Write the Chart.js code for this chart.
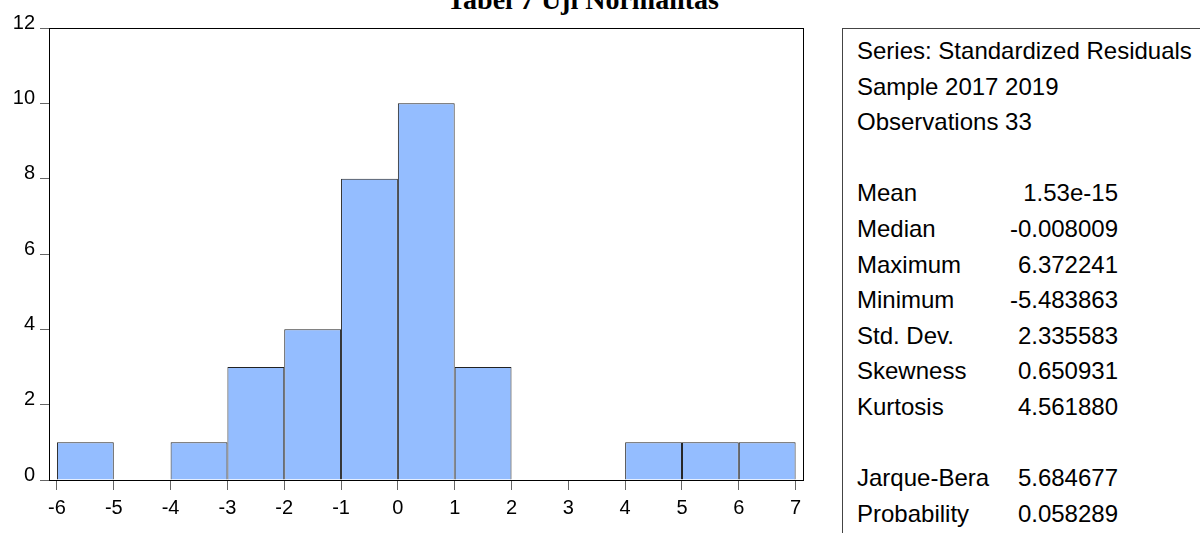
<!DOCTYPE html>
<html>
<head>
<meta charset="utf-8">
<script src="https://cdn.jsdelivr.net/npm/chart.js@4.4.1/dist/chart.umd.min.js"></script>
<style>
  html, body { margin: 0; padding: 0; background: #fff; overflow: hidden; }
  body { width: 1200px; height: 533px; position: relative; font-family: "Liberation Sans", Arial, sans-serif; }
  #wrap { position: absolute; left: 0; top: 0; width: 840px; height: 533px; }
  #title { position: absolute; left: 383px; top: -14px; width: 400px; text-align: center;
           font: bold 28px/28px "Liberation Serif", "Times New Roman", serif; color: #000; white-space: nowrap; }
  #stats { position: absolute; left: 842px; top: 28px; width: 400px; height: 540px; box-sizing: border-box;
           border-left: 1px solid #444; border-top: 1px solid #444; padding: 4px 0 0 14px;
           font-size: 24px; line-height: 35.6px; color: #000; }
  .row { display: flex; justify-content: space-between; width: 261px; height: 35.6px; white-space: nowrap; }
</style>
</head>
<body>
<div id="title">Tabel 7 Uji Normalitas</div>
<div id="wrap"><canvas id="hist"></canvas></div>
<div id="stats"></div>
<script>
// histogram bins (edges) and counts per bin
const binEdges = [-6, -5, -4, -3, -2, -1, 0, 1, 2, 3, 4, 5, 6, 7];
const counts = [1, 0, 1, 3, 4, 8, 10, 3, 0, 0, 1, 1, 1];
const xTicks = [-6, -5, -4, -3, -2, -1, 0, 1, 2, 3, 4, 5, 6, 7];
const yTicks = [0, 2, 4, 6, 8, 10, 12];

// descriptive statistics panel
const headerLines = ['Series: Standardized Residuals', 'Sample 2017 2019', 'Observations 33'];
const statLabels = ['Mean', 'Median', 'Maximum', 'Minimum', 'Std. Dev.', 'Skewness', 'Kurtosis'];
const statValues = ['1.53e-15', '-0.008009', '6.372241', '-5.483863', '2.335583', '0.650931', '4.561880'];
const testLabels = ['Jarque-Bera', 'Probability'];
const testValues = ['5.684677', '0.058289'];

// build the stats box
const stats = document.getElementById('stats');
const addRow = (label, value) => {
    const row = document.createElement('div');
    row.className = 'row';
    const l = document.createElement('span');
    l.textContent = label;
    const v = document.createElement('span');
    v.textContent = value || '';
    row.appendChild(l);
    row.appendChild(v);
    stats.appendChild(row);
};
headerLines.forEach(h => addRow(h, ''));
addRow('', '');
statLabels.forEach((l, i) => addRow(l, statValues[i]));
addRow('', '');
testLabels.forEach((l, i) => addRow(l, testValues[i]));

// bar data: one bar per bin, centred on the bin
const barData = counts.map((c, i) => ({ x: (binEdges[i] + binEdges[i + 1]) / 2, y: c }));

Chart.defaults.font.family = '"Liberation Sans", Arial, sans-serif';
Chart.defaults.color = '#000';

// full black frame round the plot area
const framePlugin = {
    id: 'frame',
    afterDatasetsDraw(chart) {
        const { ctx, chartArea: a } = chart;
        ctx.save();
        ctx.strokeStyle = '#000';
        ctx.lineWidth = 1;
        ctx.strokeRect(Math.round(a.left) + 0.5, Math.round(a.top) + 0.5,
            Math.round(a.right - a.left), Math.round(a.bottom - a.top));
        ctx.restore();
    }
};

new Chart(document.getElementById('hist'), {
    type: 'bar',
    data: {
        datasets: [{
            data: barData,
            backgroundColor: '#94bdff',
            borderColor: '#222',
            borderWidth: { top: 1, left: 1, right: 1, bottom: 0 },
            borderSkipped: 'start',
            barPercentage: 1,
            categoryPercentage: 1,
            inflateAmount: 0
        }]
    },
    options: {
        responsive: true,
        maintainAspectRatio: false,
        animation: false,
        layout: { padding: { top: 28, right: 37, bottom: 0, left: 0 } },
        plugins: {
            legend: { display: false },
            tooltip: { enabled: false },
            title: { display: false }
        },
        scales: {
            x: {
                type: 'linear',
                min: -6.14,
                max: 7.13,
                offset: false,
                afterBuildTicks: s => { s.ticks = xTicks.map(v => ({ value: v })); },
                afterFit: s => { s.height = 53; },
                grid: { display: true, offset: false, drawOnChartArea: false, drawTicks: true, tickLength: 10, color: '#666' },
                border: { display: false },
                ticks: { font: { size: 20 }, color: '#000', padding: 6, maxRotation: 0, autoSkip: false }
            },
            y: {
                type: 'linear',
                min: 0,
                max: 12,
                afterBuildTicks: s => { s.ticks = yTicks.map(v => ({ value: v })); },
                afterFit: s => { s.width = 49; },
                grid: { display: true, drawOnChartArea: false, drawTicks: true, tickLength: 9, color: '#666' },
                border: { display: false },
                ticks: { font: { size: 20 }, color: '#000', padding: 5, labelOffset: -5 }
            }
        }
    },
    plugins: [framePlugin]
});
</script>
</body>
</html>
